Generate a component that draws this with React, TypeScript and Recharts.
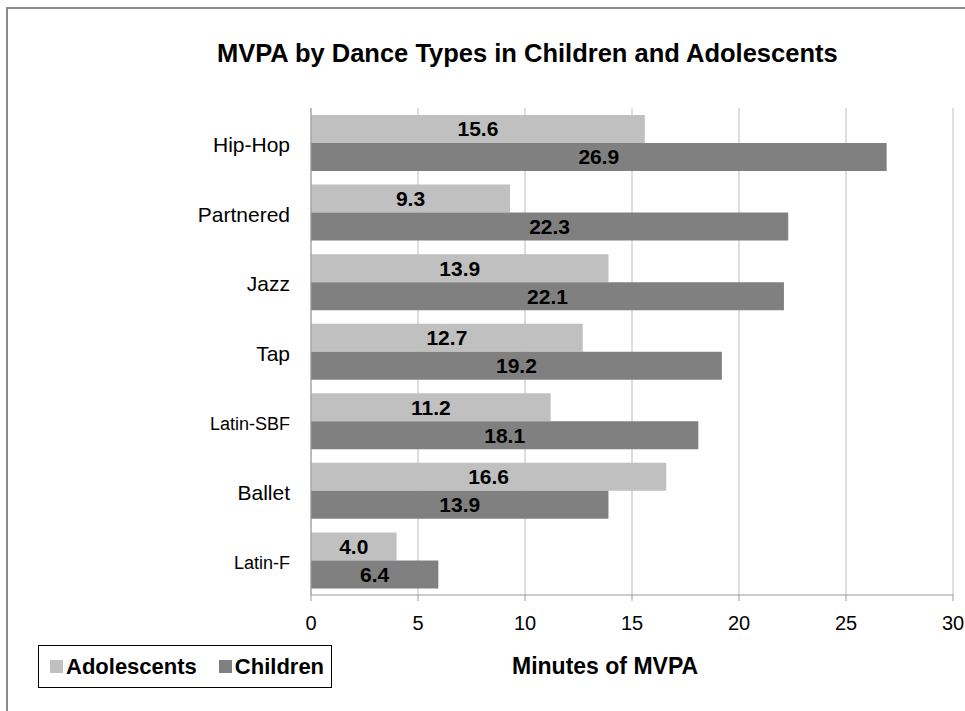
import React from 'react';
import { BarChart, Bar, XAxis, YAxis, CartesianGrid, LabelList, Legend } from 'recharts';

const categories = ['Hip-Hop', 'Partnered', 'Jazz', 'Tap', 'Latin-SBF', 'Ballet', 'Latin-F'];
const adolescents = [15.6, 9.3, 13.9, 12.7, 11.2, 16.6, 4.0];
// bar lengths as drawn; the Latin-F children bar is shorter than its printed label
const children = [26.9, 22.3, 22.1, 19.2, 18.1, 13.9, 5.95];
const adolescentLabels = ['15.6', '9.3', '13.9', '12.7', '11.2', '16.6', '4.0'];
const childrenLabels = ['26.9', '22.3', '22.1', '19.2', '18.1', '13.9', '6.4'];
const xTicks = [0, 5, 10, 15, 20, 25, 30];

const FONT = '"Liberation Sans", Arial, sans-serif';
const LIGHT = '#c0c0c0';
const DARK = '#808080';

const data = categories.map((name, i) => ({
  name,
  Adolescents: adolescents[i],
  Children: children[i],
  adoText: adolescentLabels[i],
  chText: childrenLabels[i],
}));

const CategoryTick: React.FC<any> = ({ x, y, payload }) => {
  const small = String(payload.value).startsWith('Latin');
  return (
    <text
      x={x}
      y={y + 4}
      textAnchor="end"
      dominantBaseline="middle"
      fontFamily={FONT}
      fontSize={small ? 18 : 21}
      fill="#000"
    >
      {payload.value}
    </text>
  );
};

const LegendBox: React.FC<any> = ({ payload }) => (
  <div
    style={{
      boxSizing: 'border-box',
      width: 294,
      height: 43,
      border: '1.5px solid #000',
      display: 'flex',
      alignItems: 'center',
      paddingLeft: 11,
      fontFamily: FONT,
      fontWeight: 'bold',
      fontSize: 22,
      color: '#000',
    }}
  >
    {(payload || []).map((p: any, i: number) => (
      <span key={p.value} style={{ display: 'flex', alignItems: 'center', marginRight: i === 0 ? 22 : 0 }}>
        <span style={{ width: 13, height: 13, background: p.color, marginRight: 3, display: 'inline-block' }} />
        {p.value}
      </span>
    ))}
  </div>
);

const App: React.FC = () => {
  return (
    <div style={{ position: 'absolute', left: 0, top: 0, width: 965, height: 711, background: '#fff' }}>
      <div
        style={{
          position: 'absolute',
          left: 6,
          top: 7,
          width: 959,
          height: 704,
          borderTop: '2px solid #8c8c8c',
          borderLeft: '2px solid #8c8c8c',
          boxSizing: 'border-box',
        }}
      />
      <div
        style={{
          position: 'absolute',
          left: 217,
          top: 41,
          fontFamily: FONT,
          fontWeight: 'bold',
          fontSize: 25.5,
          lineHeight: 1,
          whiteSpace: 'nowrap',
          color: '#000',
        }}
      >
        MVPA by Dance Types in Children and Adolescents
      </div>
      <div
        style={{
          position: 'absolute',
          left: 512,
          top: 655,
          fontFamily: FONT,
          fontWeight: 'bold',
          fontSize: 23,
          lineHeight: 1,
          whiteSpace: 'nowrap',
          color: '#000',
        }}
      >
        Minutes of MVPA
      </div>
      <div style={{ position: 'absolute', left: 0, top: 0 }}>
        <BarChart
          width={965}
          height={711}
          data={data}
          layout="vertical"
          margin={{ top: 108, right: 12, bottom: 0, left: 8 }}
          barGap={0}
        >
          <CartesianGrid horizontal={false} stroke="#bdbdbd" />
          <XAxis
            type="number"
            domain={[0, 30]}
            ticks={xTicks}
            interval={0}
            height={73}
            tickSize={6}
            tickMargin={15}
            stroke="#999"
            tick={{ fontSize: 20, fontFamily: FONT, fill: '#000' }}
          />
          <YAxis
            type="category"
            dataKey="name"
            width={303}
            tickSize={0}
            tickMargin={21}
            stroke="#999"
            tick={<CategoryTick />}
          />
          <Legend
            verticalAlign="bottom"
            align="left"
            content={<LegendBox />}
            wrapperStyle={{ position: 'absolute', left: 38, top: 645, bottom: 'auto', width: 294 }}
          />
          <Bar dataKey="Adolescents" fill={LIGHT} barSize={28} isAnimationActive={false}>
            <LabelList dataKey="adoText" position="center" fill="#000" fontSize={21} fontWeight="bold" fontFamily={FONT} />
          </Bar>
          <Bar dataKey="Children" fill={DARK} barSize={28} isAnimationActive={false}>
            <LabelList dataKey="chText" position="center" fill="#000" fontSize={21} fontWeight="bold" fontFamily={FONT} />
          </Bar>
        </BarChart>
      </div>
    </div>
  );
};

export default App;
